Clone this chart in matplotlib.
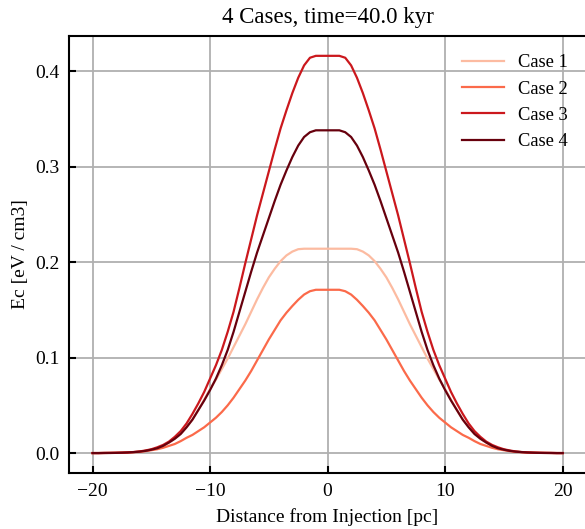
import matplotlib
matplotlib.use("Agg")
import matplotlib.pyplot as plt

plt.rcParams['font.family'] = ['Liberation Serif', 'DejaVu Serif']

# distance from injection [pc], right half (profiles are symmetric about 0)
half_dist = [0, 0.5, 1, 1.5, 2, 2.5, 3, 3.5, 4, 4.5, 5, 5.5, 6, 6.5, 7, 7.5, 8, 8.5, 9, 9.5,
             10, 10.5, 11, 11.5, 12, 12.5, 13, 13.5, 14, 14.5, 15, 15.5, 16, 16.5, 17, 17.5,
             18, 18.5, 19, 19.5, 20]

# Ec values [eV / cm3]
case1 = [0.214, 0.214, 0.214, 0.214, 0.214, 0.2135, 0.211, 0.207, 0.201, 0.193, 0.184,
         0.173, 0.161, 0.148, 0.135, 0.123, 0.111, 0.099, 0.088, 0.077, 0.067, 0.056,
         0.045, 0.035, 0.027, 0.020, 0.015, 0.011, 0.0075, 0.005, 0.0035, 0.0023, 0.0015,
         0.001, 0.0006, 0.0004, 0.0002, 0.0001, 0.0001, 0.0, 0.0]
case2 = [0.171, 0.171, 0.171, 0.1695, 0.166, 0.1605, 0.154, 0.147, 0.139, 0.129, 0.119,
         0.108, 0.097, 0.086, 0.076, 0.067, 0.058, 0.050, 0.043, 0.037, 0.032, 0.027,
         0.023, 0.019, 0.016, 0.0125, 0.0095, 0.0075, 0.0055, 0.004, 0.003, 0.002, 0.0012,
         0.0009, 0.0006, 0.0004, 0.0003, 0.0002, 0.0001, 0.0, 0.0]
case3 = [0.416, 0.416, 0.416, 0.414, 0.406, 0.393, 0.377, 0.359, 0.340, 0.318, 0.295,
         0.272, 0.249, 0.224, 0.199, 0.173, 0.148, 0.127, 0.108, 0.092, 0.078, 0.064,
         0.052, 0.041, 0.031, 0.023, 0.017, 0.012, 0.0085, 0.006, 0.004, 0.0027, 0.0017,
         0.0011, 0.0007, 0.0004, 0.0003, 0.0002, 0.0001, 0.0, 0.0]
case4 = [0.338, 0.338, 0.338, 0.336, 0.331, 0.322, 0.310, 0.296, 0.281, 0.264, 0.246,
         0.228, 0.210, 0.190, 0.169, 0.148, 0.127, 0.108, 0.092, 0.078, 0.066, 0.055,
         0.045, 0.035, 0.027, 0.020, 0.015, 0.011, 0.0075, 0.005, 0.0035, 0.0023, 0.0015,
         0.001, 0.0006, 0.0004, 0.0002, 0.0001, 0.0001, 0.0, 0.0]

labels = ['Case 1', 'Case 2', 'Case 3', 'Case 4']
colors = ['#fcbba1', '#fb6a4a', '#cb181d', '#67000d']
xticks = [-20, -10, 0, 10, 20]


def mirror(v, sign=1):
    # full profile from -20 to 20
    return [sign * a for a in v[:0:-1]] + list(v)


dist = mirror(half_dist, -1)

fig = plt.figure(figsize=(5.85, 5.29), dpi=100)
ax = fig.add_axes([0.118, 0.106, 0.884, 0.826])

for ys, lab, col in zip([case1, case2, case3, case4], labels, colors):
    ax.plot(dist, mirror(ys), color=col, lw=1.6, label=lab)

ax.set_xticks(xticks)
ax.grid(True, color='#b0b0b0', lw=1.3)
ax.set_axisbelow(True)
for s in ax.spines.values():
    s.set_linewidth(1.5)
ax.tick_params(direction='in', length=5, width=1.5, labelsize=14, pad=7)

ax.set_xlabel('Distance from Injection [pc]', fontsize=14, labelpad=6)
ax.set_ylabel('Ec [eV / cm3]', fontsize=14)
ax.set_title('4 Cases, time=40.0 kyr', fontsize=16.5, pad=9)
ax.legend(loc='upper right', frameon=False, fontsize=13.3, handlelength=2.25,
          labelspacing=0.5, handletextpad=0.75, borderaxespad=0.6)

fig.savefig('out.png', dpi=100)
